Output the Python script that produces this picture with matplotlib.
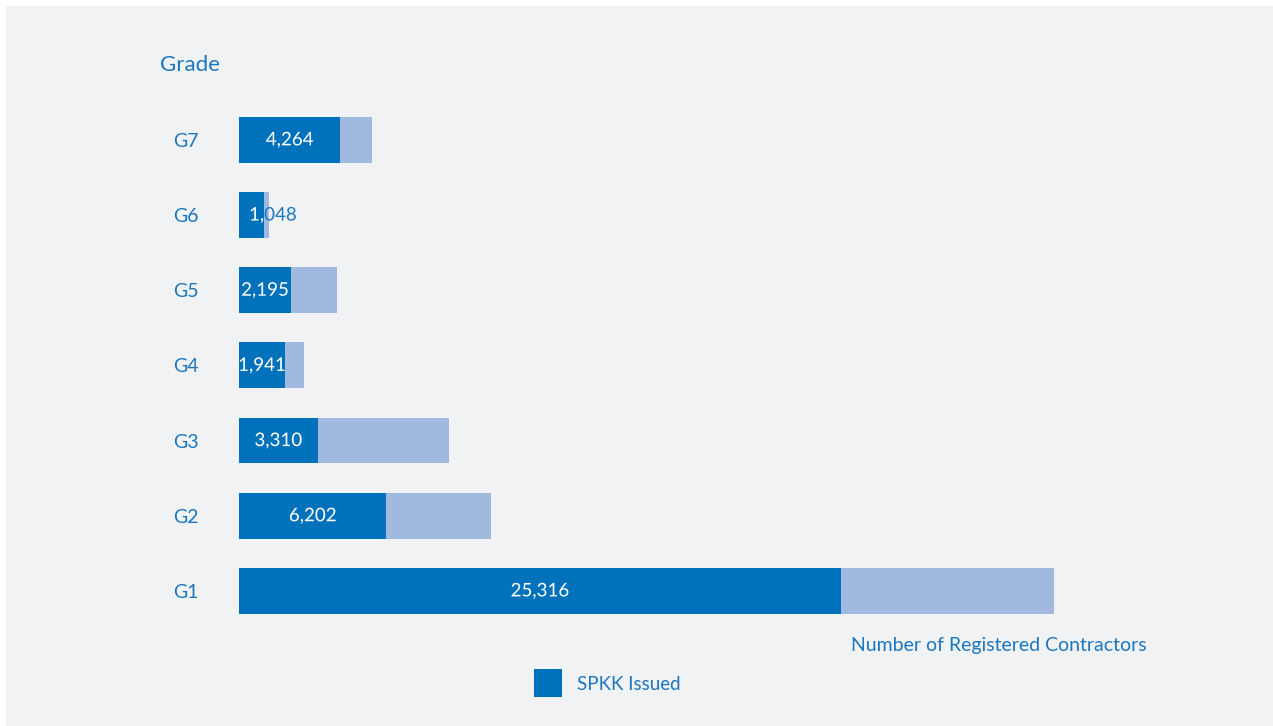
import matplotlib
matplotlib.use("Agg")
import matplotlib.pyplot as plt
import matplotlib.patheffects as pe
from matplotlib.patches import Rectangle

grades = ["G1", "G2", "G3", "G4", "G5", "G6", "G7"]
spkk_issued = [25316, 6202, 3310, 1941, 2195, 1048, 4264]
registered = [34270, 10580, 8820, 2740, 4130, 1260, 5610]

DARK = "#0072bb"
LIGHT = "#a1b9df"
TEXT = "#1a77c0"
PANEL = "#f1f2f4"

plt.rcParams["font.family"] = ["Lato", "DejaVu Sans"]

W, H = 1273, 726
fig = plt.figure(figsize=(W / 100, H / 100), dpi=100)
fig.patch.set_facecolor("white")
fig.patches.append(Rectangle((6 / W, 0), 1 - 6 / W, 1 - 6 / H, transform=fig.transFigure,
                             facecolor=PANEL, edgecolor="none", zorder=-10))

# axes placed in pixel units: x=0 at px 239, 42.05 units/px; y centres 75.2 px apart
left, right = 239, 1095
top, bottom = 100, 630
ax = fig.add_axes([left / W, 1 - bottom / H, (right - left) / W, (bottom - top) / H])
ax.set_facecolor("none")
ax.set_xlim(0, (right - left) * 42.05)
ax.set_ylim(-0.52, 6.53)

ypos = list(range(len(grades)))
bar_h = 0.61
remainder = [r - s for r, s in zip(registered, spkk_issued)]
ax.barh(ypos, remainder, left=spkk_issued, height=bar_h, color=LIGHT, zorder=2)
dark_bars = ax.barh(ypos, spkk_issued, height=bar_h, color=DARK, zorder=3)

for y, v, bar in zip(ypos, spkk_issued, dark_bars):
    label = f"{v:,}"
    if v < 1500:
        x, ha = 10 * 42.05, "left"
    else:
        x, ha = v / 2, "center"
    # blue copy underneath, white copy clipped to the dark bar (drawn as paths so clipping applies)
    ax.text(x, y, label, ha=ha, va="center", fontsize=13.5, color=TEXT, zorder=4,
            path_effects=[pe.Normal()])
    t = ax.text(x, y, label, ha=ha, va="center", fontsize=13.5, color="white", zorder=5,
                path_effects=[pe.Normal()])
    t.set_clip_path(bar)
    t.set_clip_on(True)

ax.set_yticks(ypos)
ax.set_yticklabels(grades, fontsize=14, color=TEXT)
ax.tick_params(axis="y", length=0, pad=29)
ax.set_xticks([])
for s in ax.spines.values():
    s.set_visible(False)

fig.text(160 / W, 1 - 65 / H, "Grade", fontsize=16, color=TEXT, ha="left", va="center")
fig.text(1147 / W, 1 - 645 / H, "Number of Registered Contractors", fontsize=14, color=TEXT,
         ha="right", va="center")

# legend: one square swatch for the issued series
fig.patches.append(Rectangle((534 / W, 1 - 697 / H), 28 / W, 28 / H, transform=fig.transFigure,
                             facecolor=DARK, edgecolor="none"))
fig.text(577 / W, 1 - 685 / H, "SPKK Issued", fontsize=13.5, color=TEXT, ha="left", va="center")

fig.savefig("out.png", dpi=100, facecolor=fig.get_facecolor())
